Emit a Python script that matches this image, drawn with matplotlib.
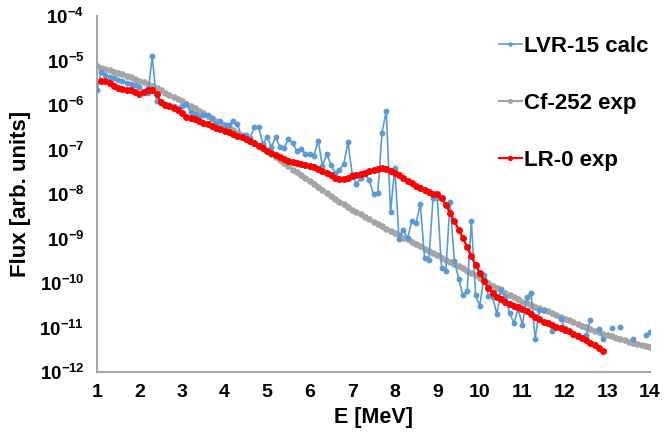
import numpy as np
import matplotlib
matplotlib.use("Agg")
import matplotlib.pyplot as plt
from matplotlib.ticker import FixedLocator, FuncFormatter, NullLocator

plt.rcParams['font.family'] = ['Liberation Sans', 'DejaVu Sans']
plt.rcParams['mathtext.fontset'] = 'custom'
plt.rcParams['mathtext.bf'] = 'Liberation Sans:bold'
plt.rcParams['mathtext.rm'] = 'Liberation Sans:bold'

# energies on a 0.1 MeV grid
energy = np.round(np.arange(10, 141) / 10.0, 1)          # 1.0 ... 14.0
energy_lr0 = np.round(np.arange(11, 130) / 10.0, 1)      # 1.1 ... 12.9

# log10 of flux
nan = np.nan
log_lvr15 = [
    -5.66, -5.25, -5.33, -5.37, -5.40, -5.43, -5.46, -5.50, -5.52, -5.55,
    -5.60, -5.71, -5.73, -4.90, -5.91, -5.95, -5.98, -6.00, -6.03, -6.06,
    -6.03, -5.98, -6.16, -6.20, -6.24, -6.22, -6.23, -6.31, -6.40, -6.35,
    -6.46, -6.46, -6.35, -6.42, -6.72, -6.67, -6.74, -6.49, -6.50, -6.88,
    -6.71, -6.95, -6.71, -6.95, -6.96, -6.76, -6.86, -7.03, -6.98, -7.10,
    -7.09, -7.14, -6.80, -7.37, -7.10, -7.35, -7.53, -7.46, -7.33, -6.83,
    -7.56, -7.77, -7.64, -7.56, -7.68, -8.01, -7.98, -6.62, -6.13, -8.41,
    -7.41, -9.01, -8.80, -9.00, -8.61, -8.65, -8.22, -9.43, -9.49, -8.10,
    -8.10, -9.67, -9.73, -8.17, -9.51, -9.90, -10.28, -10.18, -8.61, -10.28,
    -10.51, -9.81, -10.29, -10.32, -10.70, -10.13, -10.31, -10.68, -10.90, -10.58,
    -10.94, -10.32, -10.22, -11.25, -10.61, -10.61, nan, -11.08, nan, -10.80,
    -11.02, nan, nan, -11.16, nan, -11.16, -10.83, nan, -11.04, -11.27,
    nan, -11.02, nan, -10.98, nan, nan, -11.25, nan, nan, -11.17,
    -11.10,
]
log_cf252 = [
    -5.13, -5.16, -5.19, -5.22, -5.25, -5.28, -5.31, -5.35, -5.38, -5.41,
    -5.45, -5.49, -5.53, -5.58, -5.62, -5.67, -5.72, -5.77, -5.82, -5.87,
    -5.92, -5.97, -6.02, -6.07, -6.13, -6.18, -6.24, -6.29, -6.35, -6.40,
    -6.46, -6.52, -6.57, -6.63, -6.68, -6.74, -6.80, -6.86, -6.91, -6.97,
    -7.03, -7.10, -7.17, -7.24, -7.31, -7.38, -7.45, -7.51, -7.58, -7.64,
    -7.71, -7.78, -7.85, -7.92, -7.98, -8.05, -8.11, -8.17, -8.23, -8.29,
    -8.35, -8.41, -8.46, -8.52, -8.57, -8.63, -8.68, -8.73, -8.78, -8.83,
    -8.88, -8.93, -8.98, -9.02, -9.07, -9.12, -9.17, -9.23, -9.28, -9.33,
    -9.38, -9.43, -9.48, -9.52, -9.57, -9.62, -9.67, -9.72, -9.78, -9.83,
    -9.88, -9.94, -10.00, -10.06, -10.11, -10.17, -10.22, -10.27, -10.32, -10.37,
    -10.42, -10.46, -10.49, -10.53, -10.56, -10.60, -10.64, -10.68, -10.72, -10.76,
    -10.80, -10.84, -10.88, -10.92, -10.96, -11.00, -11.04, -11.07, -11.11, -11.14,
    -11.17, -11.20, -11.23, -11.26, -11.29, -11.32, -11.34, -11.37, -11.39, -11.42,
    -11.44,
]
log_lr0 = [
    -5.46, -5.46, -5.51, -5.58, -5.61, -5.63, -5.66, -5.67, -5.70, -5.75,
    -5.71, -5.67, -5.66, -5.75, -5.93, -5.99, -6.03, -6.07, -6.11, -6.19,
    -6.26, -6.29, -6.32, -6.36, -6.40, -6.43, -6.47, -6.51, -6.54, -6.58,
    -6.61, -6.65, -6.69, -6.72, -6.76, -6.81, -6.86, -6.92, -6.97, -7.03,
    -7.08, -7.12, -7.16, -7.21, -7.25, -7.27, -7.30, -7.32, -7.35, -7.37,
    -7.40, -7.44, -7.48, -7.53, -7.58, -7.63, -7.66, -7.66, -7.63, -7.60,
    -7.57, -7.54, -7.52, -7.49, -7.47, -7.44, -7.42, -7.44, -7.48, -7.53,
    -7.58, -7.64, -7.70, -7.76, -7.82, -7.87, -7.92, -7.96, -7.99, -8.01,
    -8.08, -8.25, -8.42, -8.61, -8.80, -8.99, -9.19, -9.40, -9.60, -9.78,
    -9.96, -10.12, -10.22, -10.31, -10.37, -10.42, -10.47, -10.51, -10.55, -10.58,
    -10.64, -10.70, -10.76, -10.82, -10.87, -10.91, -10.95, -10.98, -11.02, -11.05,
    -11.09, -11.14, -11.19, -11.24, -11.28, -11.34, -11.40, -11.47, -11.53,
]

labels = ['LVR-15 calc', 'Cf-252 exp', 'LR-0 exp']
colors = ['#5B9BD5', '#A5A5A5', '#FF0000']

fig = plt.figure(figsize=(6.64, 4.34), dpi=100)
ax = fig.add_axes([0.146, 0.143, 0.833, 0.820])

ax.plot(energy, 10.0 ** np.array(log_lvr15), color=colors[0], lw=1.2,
        marker='o', ms=3.2, label=labels[0], zorder=3)
ax.plot(energy, 10.0 ** np.array(log_cf252), color=colors[1], lw=1.6,
        marker='o', ms=3.8, label=labels[1], zorder=2)
ax.plot(energy_lr0, 10.0 ** np.array(log_lr0), color=colors[2], lw=1.6,
        marker='o', ms=4.0, label=labels[2], zorder=4)

ax.set_yscale('log')
ax.set_xlim(1, 14)
ax.set_ylim(1e-12, 1e-4)
ax.xaxis.set_major_locator(FixedLocator(range(1, 15)))
ax.yaxis.set_major_locator(FixedLocator([10.0 ** k for k in range(-12, -3)]))
ax.yaxis.set_minor_locator(NullLocator())
ax.yaxis.set_major_formatter(FuncFormatter(
    lambda v, p: r'$\mathbf{10^{%d}}$' % int(round(np.log10(v)))))

ax.tick_params(axis='y', length=0, labelsize=13.5, pad=9)
ax.tick_params(axis='x', length=0, labelsize=14, pad=9)
for t in ax.get_xticklabels():
    t.set_fontweight('bold')

for side in ['top', 'right']:
    ax.spines[side].set_visible(False)
for side in ['left', 'bottom']:
    ax.spines[side].set_color('#A6A6A6')
    ax.spines[side].set_linewidth(1.5)

ax.set_xlabel('E [MeV]', fontsize=15.5, fontweight='bold', labelpad=4)
ax.set_ylabel('Flux [arb. units]', fontsize=16, fontweight='bold', labelpad=6)

leg = ax.legend(loc='upper left', bbox_to_anchor=(0.752, 0.918),
                bbox_transform=fig.transFigure, frameon=False,
                fontsize=16, handlelength=1.0, handletextpad=0.1,
                labelspacing=1.62, borderaxespad=0, borderpad=0,
                markerscale=0.7)
for t in leg.get_texts():
    t.set_fontweight('bold')

fig.savefig('out.png', dpi=100)
